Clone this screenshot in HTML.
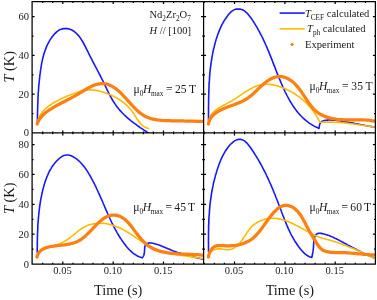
<!DOCTYPE html>
<html><head><meta charset="utf-8"><title>chart</title>
<style>html,body{margin:0;padding:0;background:#fff;width:377px;height:300px;overflow:hidden}body{position:relative;font-family:"Liberation Serif",serif}</style></head>
<body>
<svg width="377" height="300" viewBox="0 0 377 300" style="position:absolute;left:0;top:0;will-change:transform">
<rect width="377" height="300" fill="#fff"/>
<defs>
<clipPath id="c1"><rect x="32.1" y="1.6" width="171.5" height="131.3"/></clipPath>
<clipPath id="c2"><rect x="203.6" y="1.6" width="171.8" height="131.3"/></clipPath>
<clipPath id="c3"><rect x="32.1" y="132.9" width="171.5" height="131.2"/></clipPath>
<clipPath id="c4"><rect x="203.6" y="132.9" width="171.8" height="131.2"/></clipPath>
</defs>
<g clip-path="url(#c1)">
<path d="M37.4,122.7L37.4,120.8L37.4,118.9L37.5,116.9L37.5,115.0L37.5,113.1L37.6,111.2L37.6,109.3L37.7,107.4L37.7,105.5L37.8,103.6L37.9,101.7L37.9,99.8L38.0,97.9L38.1,96.0L38.2,94.1L38.3,92.2L38.5,90.3L38.6,88.4L38.7,86.6L38.9,84.7L39.1,82.8L39.3,80.9L39.5,79.0L39.7,77.1L39.9,75.2L40.2,73.3L40.4,71.4L40.7,69.5L41.0,67.6L41.3,65.7L41.6,63.8L42.0,61.9L42.4,60.0L42.8,58.1L43.3,56.2L43.8,54.4L44.4,52.5L45.0,50.7L45.7,48.9L46.4,47.1L47.1,45.3L48.0,43.6L48.9,41.9L49.9,40.2L50.9,38.6L52.0,37.0L53.2,35.4L54.5,33.9L55.9,32.6L57.3,31.3L58.8,30.3L60.4,29.4L62.1,28.9L63.8,28.6L65.6,28.5L67.3,28.6L69.0,29.0L70.7,29.6L72.3,30.3L73.8,31.2L75.2,32.3L76.6,33.5L77.8,34.9L79.1,36.3L80.2,37.9L81.3,39.5L82.4,41.2L83.4,43.0L84.4,44.8L85.3,46.6L86.2,48.4L87.2,50.3L88.1,52.1L88.9,53.9L89.8,55.7L90.7,57.4L91.6,59.1L92.5,60.8L93.3,62.5L94.2,64.1L95.1,65.8L95.9,67.4L96.8,69.0L97.6,70.6L98.5,72.3L99.3,73.9L100.2,75.5L101.0,77.2L101.8,78.8L102.7,80.5L103.5,82.2L104.3,83.9L105.1,85.7L106.0,87.4L106.8,89.2L107.7,90.9L108.5,92.7L109.4,94.4L110.3,96.2L111.3,97.9L112.2,99.5L113.2,101.2L114.3,102.8L115.3,104.4L116.4,106.0L117.6,107.5L118.8,109.0L120.0,110.4L121.3,111.8L122.6,113.2L123.9,114.5L125.3,115.8L126.7,117.1L128.1,118.3L129.6,119.6L131.0,120.8L132.5,121.9L134.0,123.1L135.6,124.2L137.1,125.4L138.7,126.5L140.2,127.6L141.8,128.6L143.4,129.7L145.0,130.8L146.6,131.8L148.2,132.9" fill="none" stroke="#1818ff" stroke-width="1.6" stroke-linejoin="round" stroke-linecap="round" />
<path d="M37.2,124.0L37.4,122.5L37.7,121.0L38.1,119.5L38.6,118.2L39.2,116.8L39.8,115.6L40.6,114.3L41.5,113.2L42.4,112.0L43.3,110.9L44.4,109.9L45.4,108.8L46.5,107.9L47.6,106.9L48.8,106.0L50.0,105.2L51.2,104.3L52.4,103.5L53.7,102.7L55.0,102.0L56.3,101.3L57.6,100.6L58.9,99.9L60.3,99.2L61.7,98.6L63.0,97.9L64.4,97.3L65.8,96.7L67.2,96.1L68.6,95.6L70.0,95.0L71.4,94.5L72.8,93.9L74.2,93.4L75.6,92.9L77.0,92.4L78.4,91.9L79.8,91.5L81.2,91.1L82.6,90.8L84.0,90.5L85.4,90.3L86.8,90.1L88.3,90.0L89.7,89.9L91.1,89.9L92.6,90.0L94.0,90.1L95.5,90.3L96.9,90.6L98.4,90.8L99.8,91.2L101.3,91.6L102.7,92.0L104.1,92.4L105.5,92.9L106.9,93.4L108.3,94.0L109.7,94.5L111.1,95.1L112.4,95.8L113.8,96.4L115.1,97.1L116.4,97.8L117.7,98.6L119.0,99.3L120.2,100.2L121.4,101.0L122.6,101.9L123.8,102.8L124.9,103.7L126.0,104.7L127.1,105.7L128.1,106.7L129.2,107.8L130.1,108.9L131.1,110.1L132.0,111.2L132.8,112.4L133.7,113.7L134.5,114.9L135.3,116.2L136.1,117.4L136.9,118.7L137.7,119.9L138.5,121.1L139.4,122.2L140.3,123.3L141.3,124.4L142.3,125.3L143.3,126.2L144.5,126.9L145.7,127.6L147.0,128.1L148.5,128.5" fill="none" stroke="#ffba00" stroke-width="1.6" stroke-linejoin="round" stroke-linecap="round" />
<path d="M37.2,124.0L37.8,122.4L38.5,120.9L39.3,119.5L40.3,118.1L41.3,116.8L42.4,115.6L43.6,114.4L44.8,113.3L46.1,112.2L47.5,111.2L48.9,110.2L50.3,109.3L51.8,108.4L53.2,107.5L54.7,106.7L56.1,105.9L57.6,105.0L59.1,104.3L60.5,103.5L62.0,102.7L63.4,102.0L64.9,101.2L66.4,100.5L67.8,99.7L69.3,98.9L70.8,98.2L72.2,97.4L73.7,96.6L75.1,95.8L76.6,94.9L78.1,94.1L79.5,93.2L81.0,92.3L82.5,91.4L84.0,90.5L85.5,89.6L87.0,88.7L88.5,87.9L90.1,87.1L91.6,86.3L93.2,85.6L94.8,85.0L96.4,84.5L98.0,84.1L99.6,83.8L101.2,83.6L102.8,83.5L104.3,83.6L105.9,83.9L107.4,84.3L108.9,84.8L110.3,85.4L111.7,86.1L113.1,86.9L114.5,87.8L115.8,88.7L117.1,89.7L118.4,90.8L119.6,91.9L120.9,93.1L122.1,94.3L123.2,95.5L124.4,96.8L125.6,98.0L126.7,99.3L127.9,100.6L129.0,101.9L130.1,103.2L131.3,104.5L132.5,105.7L133.6,107.0L134.8,108.2L136.0,109.4L137.2,110.5L138.5,111.6L139.7,112.7L141.0,113.7L142.4,114.6L143.8,115.5L145.2,116.3L146.6,117.0L148.1,117.6L149.7,118.2L151.2,118.7L152.9,119.1L154.5,119.4L156.2,119.7L157.8,120.0L159.6,120.2L161.3,120.4L163.0,120.5L164.7,120.6L166.5,120.7L168.2,120.7L170.0,120.7L171.7,120.8L173.4,120.8L175.1,120.8L176.8,120.8L178.4,120.8L180.1,120.9L181.7,120.9L183.4,120.9L185.0,121.0L186.6,121.0L188.2,121.0L189.9,121.1L191.5,121.1L193.1,121.2L194.8,121.2L196.4,121.3L198.1,121.3L199.8,121.4L201.5,121.4L203.3,121.5" fill="none" stroke="#ff8010" stroke-width="3.25" stroke-linejoin="round" stroke-linecap="round" />
</g>
<g clip-path="url(#c2)">
<path d="M208.5,120.0L208.5,118.1L208.5,116.2L208.5,114.3L208.5,112.5L208.5,110.6L208.5,108.7L208.5,106.8L208.6,104.9L208.6,103.0L208.6,101.1L208.6,99.2L208.7,97.3L208.7,95.5L208.8,93.6L208.8,91.7L208.9,89.8L209.0,87.9L209.0,86.0L209.1,84.1L209.2,82.2L209.4,80.4L209.5,78.5L209.6,76.6L209.8,74.7L209.9,72.8L210.1,71.0L210.3,69.1L210.5,67.2L210.8,65.3L211.0,63.5L211.3,61.6L211.6,59.8L211.9,57.9L212.2,56.1L212.6,54.2L212.9,52.4L213.3,50.5L213.7,48.7L214.2,46.9L214.6,45.0L215.1,43.2L215.6,41.4L216.1,39.6L216.7,37.8L217.3,36.0L217.9,34.2L218.6,32.4L219.3,30.6L220.0,28.9L220.8,27.1L221.6,25.4L222.5,23.7L223.4,22.1L224.4,20.4L225.5,18.8L226.6,17.2L227.7,15.6L228.9,14.1L230.2,12.7L231.6,11.4L233.1,10.4L234.7,9.6L236.4,9.1L238.2,9.0L239.9,9.1L241.7,9.5L243.3,10.2L244.8,11.2L246.2,12.4L247.6,13.7L248.8,15.2L250.0,16.7L251.2,18.3L252.3,19.9L253.4,21.6L254.4,23.2L255.4,24.8L256.4,26.4L257.4,28.1L258.3,29.8L259.2,31.4L260.1,33.1L261.0,34.8L261.9,36.5L262.7,38.2L263.5,39.9L264.3,41.6L265.1,43.3L265.8,45.0L266.6,46.7L267.3,48.4L268.1,50.2L268.8,51.9L269.5,53.6L270.2,55.4L270.9,57.1L271.6,58.9L272.3,60.6L272.9,62.4L273.6,64.1L274.3,65.9L275.0,67.6L275.7,69.4L276.3,71.1L277.0,72.9L277.7,74.6L278.4,76.4L279.1,78.1L279.9,79.8L280.6,81.6L281.3,83.3L282.1,85.1L282.8,86.8L283.6,88.5L284.4,90.2L285.2,92.0L286.1,93.7L286.9,95.3L287.8,97.0L288.7,98.7L289.6,100.3L290.6,102.0L291.6,103.6L292.6,105.2L293.6,106.7L294.7,108.3L295.8,109.8L296.9,111.2L298.1,112.7L299.3,114.1L300.6,115.5L301.9,116.8L303.2,118.1L304.6,119.3L306.0,120.6L307.4,121.7L308.9,122.8L310.5,123.9L312.1,124.9L313.7,125.9L315.4,126.8L317.2,127.6L319.0,128.4 M319.0,128.4L319.2,127.4L319.3,126.4L319.5,125.3L319.7,124.3L320.1,123.3L320.6,122.5L321.4,121.8L322.2,121.3L323.2,120.9L324.2,120.6L325.3,120.4L326.4,120.2L327.4,120.1L328.5,120.0L329.5,120.0L330.6,120.0L331.6,120.0L332.7,120.1L333.7,120.1L334.7,120.2L335.7,120.3L336.8,120.4L337.8,120.6L338.8,120.7L339.8,120.8L340.8,121.0L341.9,121.1L342.9,121.3L343.9,121.5L344.9,121.6L345.9,121.8L347.0,122.0L348.0,122.2L349.0,122.3L350.0,122.5L351.1,122.7L352.1,122.9L353.1,123.1L354.1,123.3L355.1,123.5L356.2,123.7L357.2,123.9L358.2,124.1L359.2,124.3L360.2,124.5L361.3,124.7L362.3,124.9L363.3,125.1L364.3,125.3L365.3,125.5L366.3,125.7L367.4,125.9L368.4,126.1L369.4,126.3L370.4,126.4L371.4,126.6L372.5,126.8L373.5,126.9L374.5,127.1" fill="none" stroke="#1818ff" stroke-width="1.6" stroke-linejoin="round" stroke-linecap="round" />
<path d="M208.5,124.0L208.5,122.5L208.7,121.0L209.0,119.6L209.4,118.3L209.9,117.1L210.5,115.9L211.2,114.8L212.0,113.8L212.9,112.8L213.8,111.8L214.8,110.9L215.8,110.1L216.9,109.3L218.0,108.5L219.2,107.8L220.3,107.1L221.5,106.4L222.7,105.7L223.9,105.0L225.2,104.4L226.4,103.7L227.7,103.1L228.9,102.4L230.2,101.7L231.4,101.1L232.6,100.3L233.8,99.6L235.1,98.8L236.3,98.1L237.5,97.3L238.6,96.5L239.8,95.7L241.0,94.9L242.2,94.1L243.4,93.3L244.5,92.5L245.7,91.7L246.9,91.0L248.1,90.3L249.3,89.6L250.5,88.9L251.7,88.2L252.9,87.6L254.1,87.0L255.3,86.5L256.5,86.0L257.8,85.6L259.0,85.2L260.3,84.9L261.6,84.6L262.9,84.4L264.2,84.3L265.5,84.2L266.9,84.2L268.2,84.3L269.6,84.4L271.0,84.6L272.4,84.8L273.7,85.1L275.1,85.4L276.5,85.7L277.9,86.1L279.2,86.6L280.6,87.0L281.9,87.5L283.2,88.0L284.5,88.6L285.8,89.1L287.1,89.7L288.4,90.3L289.6,91.0L290.9,91.6L292.1,92.3L293.3,93.0L294.5,93.7L295.7,94.5L296.8,95.3L298.0,96.1L299.1,96.9L300.2,97.7L301.3,98.6L302.3,99.4L303.4,100.3L304.4,101.2L305.4,102.2L306.4,103.1L307.3,104.1L308.3,105.1L309.2,106.1L310.1,107.1L311.0,108.2L311.8,109.3L312.7,110.4L313.5,111.5L314.3,112.6L315.0,113.7L315.8,114.9L316.5,116.1L317.2,117.3L317.9,118.5L318.6,119.8L319.2,121.0L319.8,122.3 M319.8,122.3L320.7,122.2L321.7,122.2L322.6,122.2L323.5,122.1L324.5,122.1L325.4,122.1L326.3,122.1L327.3,122.1L328.2,122.1L329.1,122.1L330.1,122.1L331.0,122.1L331.9,122.1L332.8,122.2L333.8,122.2L334.7,122.2L335.6,122.3L336.6,122.3L337.5,122.4L338.4,122.4L339.4,122.5L340.3,122.6L341.2,122.7L342.1,122.7L343.1,122.8L344.0,122.9L344.9,123.0L345.9,123.1L346.8,123.2L347.7,123.3L348.6,123.4L349.6,123.5L350.5,123.6L351.4,123.7L352.3,123.8L353.3,124.0L354.2,124.1L355.1,124.2L356.1,124.3L357.0,124.5L357.9,124.6L358.8,124.7L359.8,124.9L360.7,125.0L361.6,125.1L362.5,125.3L363.4,125.4L364.4,125.5L365.3,125.7L366.2,125.8L367.1,126.0L368.1,126.1L369.0,126.3L369.9,126.4L370.8,126.5L371.7,126.7L372.7,126.8L373.6,127.0L374.5,127.1" fill="none" stroke="#ffba00" stroke-width="1.6" stroke-linejoin="round" stroke-linecap="round" />
<path d="M208.5,124.0L208.7,122.5L209.2,121.0L209.8,119.6L210.5,118.3L211.4,117.1L212.4,115.9L213.5,114.8L214.7,113.8L215.9,112.9L217.2,112.0L218.5,111.2L219.9,110.4L221.2,109.7L222.6,109.0L224.0,108.4L225.4,107.8L226.9,107.3L228.3,106.7L229.7,106.2L231.2,105.7L232.6,105.2L234.1,104.7L235.5,104.1L236.9,103.6L238.4,103.0L239.8,102.4L241.2,101.8L242.5,101.2L243.9,100.5L245.2,99.7L246.5,99.0L247.7,98.2L248.9,97.3L250.1,96.4L251.2,95.5L252.4,94.5L253.5,93.5L254.6,92.5L255.7,91.4L256.8,90.3L257.9,89.2L259.0,88.1L260.2,87.0L261.4,85.9L262.6,84.9L263.8,83.8L265.1,82.8L266.4,81.8L267.6,80.9L269.0,80.0L270.3,79.2L271.6,78.5L273.0,77.9L274.4,77.4L275.8,77.0L277.2,76.7L278.6,76.5L280.1,76.5L281.5,76.6L283.0,76.9L284.4,77.3L285.8,77.7L287.2,78.3L288.5,79.0L289.8,79.8L291.1,80.6L292.3,81.6L293.5,82.6L294.6,83.6L295.7,84.7L296.7,85.9L297.8,87.1L298.8,88.3L299.7,89.5L300.6,90.8L301.6,92.1L302.4,93.4L303.3,94.7L304.2,96.1L305.1,97.4L305.9,98.7L306.8,100.0L307.7,101.3L308.5,102.6L309.4,103.9L310.4,105.1L311.3,106.3L312.3,107.4L313.3,108.6L314.3,109.6L315.4,110.6L316.5,111.6L317.7,112.5L318.9,113.3L320.2,114.1L321.5,114.8L322.8,115.5L324.2,116.1L325.6,116.6L327.0,117.1L328.5,117.6L330.0,118.0L331.5,118.4L333.0,118.7L334.5,118.9L336.0,119.2L337.5,119.4L339.1,119.5L340.6,119.6L342.1,119.7L343.7,119.8L345.2,119.8L346.7,119.9L348.3,119.9L349.8,119.9L351.4,119.9L352.9,119.9L354.4,119.9L356.0,119.8L357.5,119.8L359.0,119.8L360.6,119.9L362.1,119.9L363.7,119.9L365.2,120.0L366.7,120.1L368.2,120.2L369.8,120.4L371.3,120.6L372.8,120.8L374.3,121.1" fill="none" stroke="#ff8010" stroke-width="3.25" stroke-linejoin="round" stroke-linecap="round" />
</g>
<g clip-path="url(#c3)">
<path d="M37.2,252.2L37.2,250.5L37.2,248.8L37.3,247.2L37.3,245.5L37.3,243.8L37.3,242.1L37.4,240.4L37.4,238.8L37.4,237.1L37.5,235.4L37.5,233.7L37.6,232.1L37.7,230.4L37.8,228.7L37.8,227.1L37.9,225.4L38.0,223.7L38.1,222.1L38.2,220.4L38.4,218.7L38.5,217.1L38.7,215.4L38.8,213.8L39.0,212.1L39.2,210.5L39.4,208.8L39.6,207.1L39.8,205.5L40.1,203.8L40.3,202.2L40.6,200.5L40.9,198.9L41.2,197.2L41.6,195.6L41.9,193.9L42.3,192.3L42.6,190.7L43.0,189.0L43.5,187.4L43.9,185.7L44.4,184.1L44.9,182.5L45.4,180.9L46.0,179.3L46.6,177.7L47.2,176.1L47.9,174.6L48.6,173.0L49.3,171.5L50.1,170.0L51.0,168.6L51.8,167.1L52.8,165.7L53.8,164.4L54.8,163.0L56.0,161.7L57.1,160.5L58.4,159.3L59.6,158.1L61.0,157.2L62.3,156.3L63.7,155.6L65.2,155.2L66.7,155.0L68.1,155.0L69.6,155.3L71.1,155.8L72.6,156.5L74.0,157.3L75.4,158.2L76.8,159.2L78.0,160.2L79.3,161.3L80.5,162.5L81.6,163.7L82.7,165.0L83.8,166.3L84.8,167.6L85.8,169.0L86.8,170.4L87.7,171.9L88.6,173.4L89.5,174.8L90.4,176.3L91.2,177.8L92.0,179.3L92.8,180.9L93.6,182.4L94.4,183.9L95.1,185.4L95.9,186.9L96.6,188.5L97.3,190.0L98.0,191.5L98.7,193.1L99.4,194.6L100.1,196.1L100.8,197.7L101.4,199.2L102.1,200.7L102.8,202.3L103.4,203.8L104.1,205.3L104.7,206.9L105.4,208.4L106.0,209.9L106.7,211.4L107.4,213.0L108.0,214.5L108.7,216.0L109.4,217.5L110.1,219.0L110.8,220.5L111.5,222.0L112.2,223.5L113.0,225.0L113.7,226.4L114.5,227.9L115.3,229.4L116.1,230.8L116.9,232.3L117.7,233.7L118.6,235.1L119.4,236.5L120.3,238.0L121.3,239.4L122.2,240.7L123.2,242.1L124.2,243.5L125.2,244.8L126.2,246.2L127.3,247.5L128.4,248.7L129.6,250.0L130.8,251.1L132.0,252.2L133.3,253.3L134.7,254.3L136.1,255.1L137.5,256.0L139.0,256.7L140.6,257.3L142.2,257.8 M142.2,257.8L142.7,257.2L143.1,256.6L143.5,255.9L143.8,255.3L144.0,254.6L144.2,253.8L144.3,253.1L144.4,252.3L144.5,251.6L144.5,250.8L144.6,250.0L144.6,249.2L144.7,248.5L144.7,247.7L144.8,246.9L145.0,246.2L145.2,245.5L145.6,244.9L146.1,244.3L146.6,243.9L147.2,243.5L147.9,243.3L148.6,243.1L149.3,243.0L150.0,242.9L150.8,243.0L151.5,243.0L152.3,243.2L153.0,243.3L153.8,243.5L154.6,243.7L155.3,243.9L156.0,244.1L156.8,244.3L157.5,244.6L158.2,244.8L159.0,245.1L159.7,245.3L160.4,245.6L161.1,245.9L161.8,246.1L162.5,246.4L163.2,246.7L163.9,247.0L164.6,247.3L165.2,247.6L165.9,247.9L166.6,248.1L167.3,248.4L168.0,248.7L168.7,249.0L169.4,249.3L170.1,249.6L170.8,249.9L171.5,250.2L172.1,250.4L172.8,250.7L173.6,251.0L174.3,251.2L175.0,251.5L175.7,251.7L176.4,252.0L177.1,252.2L177.8,252.5L178.5,252.7L179.2,252.9L180.0,253.1L180.7,253.4L181.4,253.6L182.1,253.8L182.9,254.0L183.6,254.2L184.3,254.5L185.0,254.7L185.8,254.9L186.5,255.1L187.2,255.3L187.9,255.5L188.7,255.7L189.4,255.9L190.1,256.1L190.9,256.2L191.6,256.4L192.3,256.6L193.1,256.8L193.8,257.0L194.5,257.2L195.3,257.4L196.0,257.5L196.7,257.7L197.5,257.9L198.2,258.1L198.9,258.2L199.7,258.4L200.4,258.6L201.1,258.8L201.8,258.9L202.6,259.1L203.3,259.3" fill="none" stroke="#1818ff" stroke-width="1.6" stroke-linejoin="round" stroke-linecap="round" />
<path d="M37.0,257.0L37.4,255.4L37.9,254.0L38.6,252.8L39.5,251.8L40.5,250.8L41.7,250.1L42.9,249.4L44.2,248.8L45.5,248.3L46.9,247.8L48.4,247.4L49.8,246.9L51.2,246.5L52.6,246.1L54.0,245.6L55.4,245.2L56.8,244.7L58.2,244.2L59.6,243.7L60.9,243.2L62.2,242.6L63.5,241.9L64.8,241.2L66.0,240.5L67.2,239.7L68.4,238.9L69.6,238.0L70.7,237.1L71.9,236.2L73.0,235.3L74.1,234.4L75.3,233.4L76.4,232.5L77.5,231.6L78.7,230.7L79.9,229.8L81.0,229.0L82.2,228.2L83.5,227.5L84.8,226.8L86.1,226.1L87.4,225.6L88.8,225.1L90.2,224.6L91.6,224.3L93.0,223.9L94.5,223.7L96.0,223.5L97.5,223.4L98.9,223.3L100.4,223.3L101.9,223.3L103.4,223.4L104.9,223.5L106.4,223.7L107.8,224.0L109.2,224.3L110.6,224.6L112.0,225.0L113.4,225.4L114.8,225.9L116.1,226.4L117.4,226.9L118.7,227.5L120.0,228.1L121.3,228.7L122.6,229.4L123.9,230.1L125.1,230.8L126.4,231.5L127.6,232.3L128.8,233.0L130.1,233.8L131.3,234.6L132.5,235.4L133.7,236.2L134.9,237.0L136.2,237.8L137.4,238.6L138.6,239.4L139.8,240.2L141.0,241.0L142.3,241.7L143.5,242.5L144.7,243.3L146.0,244.0L147.3,244.7L148.5,245.4L149.8,246.1L151.1,246.8L152.4,247.4L153.7,248.0L155.0,248.6L156.3,249.1L157.7,249.6L159.0,250.1L160.4,250.6L161.8,251.0L163.1,251.4L164.5,251.8L165.9,252.2L167.3,252.6L168.8,252.9L170.2,253.2L171.6,253.5L173.0,253.8L174.5,254.1L175.9,254.4L177.4,254.6L178.8,254.9L180.2,255.1L181.7,255.4L183.1,255.6L184.6,255.8L186.1,256.0L187.5,256.2L189.0,256.5L190.4,256.7L191.9,256.9L193.3,257.1L194.7,257.3L196.2,257.5L197.6,257.7L199.0,258.0L200.5,258.2L201.9,258.4L203.3,258.7" fill="none" stroke="#ffba00" stroke-width="1.6" stroke-linejoin="round" stroke-linecap="round" />
<path d="M37.0,257.0L37.4,255.5L38.0,254.1L38.7,252.9L39.5,251.8L40.5,250.8L41.5,250.0L42.7,249.2L43.9,248.6L45.2,248.0L46.6,247.6L48.0,247.2L49.4,246.8L50.9,246.5L52.4,246.3L53.9,246.1L55.5,245.9L57.0,245.7L58.5,245.5L60.0,245.4L61.5,245.2L63.0,245.0L64.4,244.8L65.9,244.6L67.3,244.4L68.7,244.2L70.1,243.9L71.5,243.5L72.9,243.2L74.2,242.8L75.5,242.3L76.8,241.8L78.0,241.2L79.2,240.5L80.4,239.8L81.6,239.0L82.7,238.2L83.8,237.3L84.9,236.4L86.0,235.4L87.1,234.4L88.1,233.4L89.2,232.3L90.2,231.2L91.3,230.2L92.3,229.1L93.3,228.0L94.4,226.9L95.4,225.8L96.5,224.7L97.5,223.6L98.6,222.6L99.7,221.6L100.8,220.6L102.0,219.7L103.1,218.8L104.3,218.0L105.6,217.3L106.8,216.6L108.1,216.1L109.4,215.7L110.8,215.4L112.2,215.2L113.7,215.2L115.1,215.2L116.5,215.4L117.9,215.7L119.2,216.1L120.5,216.6L121.7,217.3L122.9,218.0L124.0,218.8L125.1,219.6L126.2,220.6L127.2,221.6L128.2,222.6L129.2,223.7L130.1,224.9L131.1,226.1L132.0,227.2L132.9,228.4L133.8,229.7L134.7,230.9L135.6,232.1L136.5,233.3L137.4,234.4L138.3,235.6L139.3,236.8L140.2,237.9L141.1,239.0L142.1,240.1L143.1,241.2L144.1,242.2L145.1,243.1L146.2,244.1L147.2,245.0L148.4,245.8L149.5,246.6L150.7,247.3L151.9,248.0L153.1,248.6L154.4,249.2L155.7,249.7L157.0,250.2L158.3,250.7L159.7,251.1L161.1,251.5L162.5,251.8L163.9,252.1L165.3,252.4L166.8,252.7L168.2,252.9L169.7,253.1L171.2,253.3L172.7,253.4L174.2,253.6L175.7,253.7L177.2,253.8L178.7,253.9L180.2,254.0L181.7,254.0L183.2,254.1L184.7,254.1L186.2,254.2L187.7,254.2L189.2,254.3L190.7,254.4L192.2,254.4L193.6,254.5L195.1,254.6L196.5,254.6L197.9,254.7L199.3,254.9L200.6,255.0L202.0,255.1L203.3,255.3" fill="none" stroke="#ff8010" stroke-width="3.25" stroke-linejoin="round" stroke-linecap="round" />
</g>
<g clip-path="url(#c4)">
<path d="M208.5,251.7L208.5,249.9L208.5,248.1L208.5,246.3L208.5,244.5L208.5,242.7L208.4,240.8L208.5,239.0L208.5,237.2L208.5,235.4L208.5,233.6L208.5,231.8L208.6,230.0L208.6,228.2L208.6,226.4L208.7,224.6L208.8,222.8L208.8,221.0L208.9,219.2L209.0,217.4L209.1,215.6L209.3,213.9L209.4,212.1L209.5,210.3L209.7,208.5L209.8,206.7L210.0,204.9L210.2,203.1L210.4,201.4L210.7,199.6L210.9,197.8L211.2,196.0L211.4,194.3L211.7,192.5L212.0,190.7L212.4,189.0L212.7,187.2L213.1,185.4L213.4,183.7L213.8,181.9L214.3,180.2L214.7,178.4L215.2,176.7L215.6,174.9L216.2,173.2L216.7,171.4L217.2,169.7L217.8,167.9L218.4,166.2L219.0,164.5L219.7,162.7L220.4,161.0L221.1,159.3L221.8,157.6L222.6,156.0L223.5,154.4L224.4,152.8L225.3,151.2L226.3,149.7L227.4,148.2L228.5,146.7L229.6,145.3L230.9,144.0L232.2,142.8L233.6,141.6L235.0,140.6L236.5,139.9L238.0,139.4L239.6,139.3L241.1,139.4L242.6,139.9L244.1,140.6L245.4,141.6L246.7,142.8L247.9,144.2L249.0,145.7L250.2,147.2L251.3,148.8L252.3,150.3L253.4,151.9L254.4,153.5L255.4,155.1L256.4,156.6L257.3,158.2L258.3,159.8L259.2,161.4L260.1,163.0L261.0,164.6L261.9,166.2L262.7,167.8L263.5,169.4L264.4,171.0L265.2,172.6L266.0,174.2L266.7,175.8L267.5,177.4L268.3,179.1L269.0,180.7L269.7,182.3L270.5,184.0L271.2,185.6L271.9,187.2L272.6,188.9L273.3,190.5L273.9,192.2L274.6,193.8L275.3,195.5L275.9,197.2L276.6,198.8L277.3,200.5L277.9,202.2L278.5,203.8L279.2,205.5L279.8,207.2L280.5,208.9L281.1,210.6L281.7,212.3L282.4,214.0L283.0,215.6L283.7,217.3L284.3,219.0L285.0,220.7L285.7,222.4L286.4,224.1L287.1,225.7L287.8,227.4L288.5,229.1L289.3,230.7L290.1,232.3L290.9,234.0L291.7,235.6L292.6,237.1L293.4,238.7L294.4,240.3L295.3,241.8L296.3,243.3L297.3,244.8L298.3,246.3L299.4,247.7L300.6,249.2L301.7,250.5L303.0,251.9L304.2,253.1L305.6,254.3L307.0,255.3L308.5,256.2L310.1,256.9L311.8,257.5 M311.8,257.5L312.0,256.6L312.1,255.8L312.3,254.9L312.5,254.0L312.7,253.1L312.8,252.3L313.0,251.4L313.1,250.5L313.2,249.6L313.3,248.8L313.4,247.9L313.5,247.0L313.5,246.1L313.6,245.2L313.6,244.4L313.7,243.5L313.8,242.6L313.8,241.7L313.9,240.8L314.1,240.0L314.2,239.1L314.4,238.2L314.6,237.3L314.9,236.4L315.3,235.6L315.7,234.9L316.3,234.3L317.0,233.8L317.8,233.5L318.6,233.4L319.4,233.3L320.3,233.3L321.2,233.4L322.1,233.6L323.0,233.8L323.9,234.0L324.8,234.2L325.7,234.5L326.5,234.7L327.4,235.0L328.2,235.3L329.1,235.6L329.9,235.9L330.7,236.3L331.5,236.6L332.3,237.0L333.1,237.3L333.9,237.7L334.7,238.1L335.5,238.5L336.3,238.8L337.1,239.2L337.9,239.6L338.7,240.0L339.5,240.5L340.2,240.9L341.0,241.3L341.8,241.7L342.6,242.1L343.3,242.5L344.1,243.0L344.9,243.4L345.7,243.8L346.5,244.2L347.2,244.6L348.0,245.1L348.8,245.5L349.6,245.9L350.4,246.3L351.1,246.8L351.9,247.2L352.7,247.6L353.5,248.0L354.3,248.4L355.1,248.8L355.9,249.2L356.6,249.7L357.4,250.1L358.2,250.5L359.0,250.9L359.8,251.3L360.6,251.7L361.4,252.1L362.2,252.5L363.0,252.9L363.8,253.2L364.6,253.6L365.4,254.0L366.2,254.4L367.0,254.8L367.8,255.1L368.6,255.5L369.4,255.8L370.2,256.2L371.0,256.6L371.8,256.9L372.7,257.2L373.5,257.6L374.3,257.9" fill="none" stroke="#1818ff" stroke-width="1.6" stroke-linejoin="round" stroke-linecap="round" />
<path d="M208.5,257.0L208.9,255.5L209.4,254.1L210.2,252.8L211.1,251.7L212.2,250.8L213.3,250.1L214.6,249.5L215.9,249.2L217.4,248.9L218.8,248.9L220.3,248.9L221.8,249.1L223.3,249.3L224.8,249.5L226.2,249.7L227.7,249.7L229.1,249.7L230.5,249.5L231.8,249.1L233.1,248.5L234.3,247.8L235.5,247.0L236.6,246.1L237.7,245.2L238.7,244.1L239.7,243.0L240.6,241.9L241.5,240.7L242.4,239.5L243.2,238.3L244.0,237.1L244.9,235.8L245.7,234.6L246.5,233.3L247.4,232.1L248.3,230.9L249.1,229.7L250.1,228.5L251.0,227.4L252.0,226.4L253.1,225.4L254.2,224.4L255.4,223.6L256.6,222.8L257.9,222.0L259.2,221.4L260.5,220.8L261.9,220.2L263.3,219.7L264.7,219.3L266.1,219.0L267.6,218.7L269.1,218.5L270.5,218.4L272.0,218.3L273.4,218.3L274.9,218.3L276.3,218.5L277.7,218.6L279.1,218.9L280.5,219.2L281.9,219.5L283.3,219.9L284.6,220.3L286.0,220.8L287.4,221.3L288.7,221.8L290.1,222.4L291.4,223.0L292.7,223.6L294.1,224.3L295.4,224.9L296.7,225.6L298.0,226.3L299.3,227.0L300.6,227.8L302.0,228.5L303.3,229.2L304.6,229.9L305.9,230.6L307.2,231.4L308.5,232.1L309.8,232.8L311.1,233.4L312.4,234.1L313.7,234.7L315.0,235.3L316.3,235.9L317.7,236.4L319.0,236.9L320.3,237.4L321.7,237.9L323.0,238.3L324.3,238.6L325.7,239.0L327.0,239.4L328.4,239.8L329.8,240.1L331.1,240.5L332.5,240.9L333.9,241.4L335.2,241.8L336.6,242.3L338.0,242.7L339.4,243.2L340.8,243.7L342.1,244.2L343.5,244.7L344.9,245.3L346.2,245.8L347.6,246.3L349.0,246.9L350.3,247.4L351.7,248.0L353.0,248.6L354.4,249.1L355.7,249.7L357.0,250.3L358.4,250.9L359.7,251.5L361.1,252.1L362.4,252.7L363.7,253.3L365.0,253.9L366.4,254.6L367.7,255.2L369.0,255.8L370.3,256.4L371.7,257.1L373.0,257.7L374.3,258.3" fill="none" stroke="#ffba00" stroke-width="1.6" stroke-linejoin="round" stroke-linecap="round" />
<path d="M208.5,257.0L208.7,255.6L209.1,254.3L209.5,252.9L210.1,251.5L210.9,250.3L211.7,249.1L212.6,248.0L213.7,247.2L214.8,246.5L216.0,246.0L217.2,245.7L218.5,245.5L219.9,245.5L221.3,245.5L222.7,245.6L224.1,245.7L225.6,245.8L227.0,245.8L228.5,245.8L229.9,245.8L231.4,245.7L232.8,245.6L234.2,245.5L235.7,245.3L237.1,245.1L238.5,244.8L239.9,244.5L241.2,244.1L242.6,243.7L243.9,243.3L245.2,242.8L246.4,242.2L247.7,241.6L248.9,241.0L250.0,240.3L251.2,239.5L252.3,238.7L253.3,237.9L254.3,237.0L255.3,236.0L256.3,235.0L257.2,234.0L258.2,232.9L259.1,231.9L260.0,230.7L260.8,229.6L261.7,228.5L262.6,227.3L263.4,226.1L264.3,224.9L265.1,223.7L266.0,222.5L266.8,221.3L267.7,220.1L268.5,218.9L269.4,217.7L270.3,216.6L271.2,215.4L272.1,214.3L273.1,213.2L274.1,212.1L275.1,211.1L276.1,210.1L277.2,209.1L278.3,208.2L279.4,207.4L280.6,206.7L281.8,206.1L283.1,205.7L284.4,205.4L285.7,205.4L287.1,205.4L288.4,205.6L289.7,206.0L291.0,206.5L292.2,207.0L293.3,207.7L294.4,208.4L295.4,209.3L296.4,210.2L297.4,211.2L298.3,212.2L299.2,213.4L300.1,214.5L300.9,215.7L301.7,217.0L302.5,218.3L303.2,219.6L303.9,220.9L304.7,222.2L305.4,223.5L306.0,224.9L306.7,226.2L307.4,227.5L308.1,228.8L308.7,230.0L309.4,231.2L310.1,232.4L310.8,233.6L311.5,234.8L312.2,235.9L312.9,237.1L313.6,238.3L314.3,239.4L315.1,240.6L315.8,241.8L316.6,243.1L317.3,244.3L318.2,245.5L319.0,246.7L319.9,247.7L320.9,248.7L322.0,249.6L323.1,250.3L324.3,250.9L325.6,251.3L326.9,251.7L328.2,251.9L329.6,252.1L331.0,252.3L332.5,252.4L333.9,252.5L335.3,252.5L336.8,252.5L338.2,252.6L339.6,252.6L341.1,252.6L342.5,252.6L344.0,252.7L345.4,252.7L346.8,252.8L348.2,252.9L349.6,253.0L351.0,253.1L352.5,253.2L353.9,253.3L355.3,253.5L356.7,253.6L358.0,253.8L359.4,253.9L360.8,254.0L362.2,254.2L363.6,254.3L365.0,254.4L366.5,254.5L367.9,254.6L369.3,254.7L370.7,254.8L372.1,254.9L373.6,254.9L375.0,254.9" fill="none" stroke="#ff8010" stroke-width="3.25" stroke-linejoin="round" stroke-linecap="round" />
</g>
<path d="M32.1,1.6H375.4V264.1H32.1ZM203.6,1.6V264.1M32.1,132.9H375.4M42.7,264.1v-1.4M42.7,131.5v2.8M42.7,1.6v1.4M52.7,264.1v-1.4M52.7,131.5v2.8M52.7,1.6v1.4M62.8,264.1v-2.5M62.8,130.4v5.0M62.8,1.6v2.5M72.9,264.1v-1.4M72.9,131.5v2.8M72.9,1.6v1.4M82.9,264.1v-1.4M82.9,131.5v2.8M82.9,1.6v1.4M93.0,264.1v-1.4M93.0,131.5v2.8M93.0,1.6v1.4M103.1,264.1v-1.4M103.1,131.5v2.8M103.1,1.6v1.4M113.2,264.1v-2.5M113.2,130.4v5.0M113.2,1.6v2.5M123.2,264.1v-1.4M123.2,131.5v2.8M123.2,1.6v1.4M133.3,264.1v-1.4M133.3,131.5v2.8M133.3,1.6v1.4M143.4,264.1v-1.4M143.4,131.5v2.8M143.4,1.6v1.4M153.4,264.1v-1.4M153.4,131.5v2.8M153.4,1.6v1.4M163.5,264.1v-2.5M163.5,130.4v5.0M163.5,1.6v2.5M173.6,264.1v-1.4M173.6,131.5v2.8M173.6,1.6v1.4M183.6,264.1v-1.4M183.6,131.5v2.8M183.6,1.6v1.4M193.7,264.1v-1.4M193.7,131.5v2.8M193.7,1.6v1.4M204.3,264.1v-1.4M204.3,131.5v2.8M204.3,1.6v1.4M214.4,264.1v-1.4M214.4,131.5v2.8M214.4,1.6v1.4M224.4,264.1v-1.4M224.4,131.5v2.8M224.4,1.6v1.4M234.5,264.1v-2.5M234.5,130.4v5.0M234.5,1.6v2.5M244.6,264.1v-1.4M244.6,131.5v2.8M244.6,1.6v1.4M254.6,264.1v-1.4M254.6,131.5v2.8M254.6,1.6v1.4M264.7,264.1v-1.4M264.7,131.5v2.8M264.7,1.6v1.4M274.8,264.1v-1.4M274.8,131.5v2.8M274.8,1.6v1.4M284.9,264.1v-2.5M284.9,130.4v5.0M284.9,1.6v2.5M294.9,264.1v-1.4M294.9,131.5v2.8M294.9,1.6v1.4M305.0,264.1v-1.4M305.0,131.5v2.8M305.0,1.6v1.4M315.1,264.1v-1.4M315.1,131.5v2.8M315.1,1.6v1.4M325.1,264.1v-1.4M325.1,131.5v2.8M325.1,1.6v1.4M335.2,264.1v-2.5M335.2,130.4v5.0M335.2,1.6v2.5M345.3,264.1v-1.4M345.3,131.5v2.8M345.3,1.6v1.4M355.3,264.1v-1.4M355.3,131.5v2.8M355.3,1.6v1.4M365.4,264.1v-1.4M365.4,131.5v2.8M365.4,1.6v1.4M32.1,113.5h1.4M202.2,113.5h2.8M375.4,113.5h-1.4M32.1,94.2h2.5M201.1,94.2h5.0M375.4,94.2h-2.5M32.1,74.8h1.4M202.2,74.8h2.8M375.4,74.8h-1.4M32.1,55.4h2.5M201.1,55.4h5.0M375.4,55.4h-2.5M32.1,36.0h1.4M202.2,36.0h2.8M375.4,36.0h-1.4M32.1,16.7h2.5M201.1,16.7h5.0M375.4,16.7h-2.5M32.1,249.2h1.4M202.2,249.2h2.8M375.4,249.2h-1.4M32.1,234.2h2.5M201.1,234.2h5.0M375.4,234.2h-2.5M32.1,219.3h1.4M202.2,219.3h2.8M375.4,219.3h-1.4M32.1,204.3h2.5M201.1,204.3h5.0M375.4,204.3h-2.5M32.1,189.4h1.4M202.2,189.4h2.8M375.4,189.4h-1.4M32.1,174.4h2.5M201.1,174.4h5.0M375.4,174.4h-2.5M32.1,159.5h1.4M202.2,159.5h2.8M375.4,159.5h-1.4M32.1,144.5h2.5M201.1,144.5h5.0M375.4,144.5h-2.5" fill="none" stroke="#000" stroke-width="1.25"/>
<path d="M279.6,13.1H304.8" stroke="#1818ff" stroke-width="1.6"/>
<path d="M279.6,28.8H304.8" stroke="#ffba00" stroke-width="1.6"/>
<circle cx="292.1" cy="44.3" r="1.6" fill="#ff8010"/>
<g font-family="Liberation Serif, serif" fill="#1a1a1a">
<text x="29.0" y="20.2" font-size="10.5" text-anchor="end" >60</text>
<text x="29.0" y="58.8" font-size="10.5" text-anchor="end" >40</text>
<text x="29.0" y="97.5" font-size="10.5" text-anchor="end" >20</text>
<text x="29.0" y="135.6" font-size="10.5" text-anchor="end" >0</text>
<text x="29.0" y="148.0" font-size="10.5" text-anchor="end" >80</text>
<text x="29.0" y="178.0" font-size="10.5" text-anchor="end" >60</text>
<text x="29.0" y="208.0" font-size="10.5" text-anchor="end" >40</text>
<text x="29.0" y="238.0" font-size="10.5" text-anchor="end" >20</text>
<text x="29.0" y="268.0" font-size="10.5" text-anchor="end" >0</text>
<text x="62.5" y="274.2" font-size="10.5" text-anchor="middle" >0.05</text>
<text x="112.9" y="274.2" font-size="10.5" text-anchor="middle" >0.10</text>
<text x="163.2" y="274.2" font-size="10.5" text-anchor="middle" >0.15</text>
<text x="234.0" y="274.2" font-size="10.5" text-anchor="middle" >0.05</text>
<text x="284.4" y="274.2" font-size="10.5" text-anchor="middle" >0.10</text>
<text x="334.7" y="274.2" font-size="10.5" text-anchor="middle" >0.15</text>
<text x="118.2" y="295.3" font-size="14.3" text-anchor="middle" >Time (s)</text>
<text x="289.8" y="295.3" font-size="14.3" text-anchor="middle" >Time (s)</text>
<text transform="translate(14.2,66.8) rotate(-90)" font-size="14.3" text-anchor="middle"><tspan font-style="italic">T</tspan> (K)</text>
<text transform="translate(14.2,198.3) rotate(-90)" font-size="14.3" text-anchor="middle"><tspan font-style="italic">T</tspan> (K)</text>
<text x="149.5" y="17.8" font-size="10.5" text-anchor="start" >Nd<tspan dy="2.9" font-size="7.3">2</tspan><tspan dy="-2.9">Zr</tspan><tspan dy="2.9" font-size="7.3">2</tspan><tspan dy="-2.9">O</tspan><tspan dy="2.9" font-size="7.3">7</tspan></text>
<text x="149.5" y="33.8" font-size="10.5" text-anchor="start" ><tspan font-style="italic">H</tspan> // [100]</text>
<text x="133.6" y="92.8" font-size="11.6" text-anchor="start" word-spacing="-0.4">μ<tspan dy="2.9" font-size="7.3">0</tspan><tspan dy="-2.9" dx="-0.5" font-style="italic">H</tspan><tspan dy="2.9" dx="-0.4" font-size="7.3">max</tspan><tspan dy="-2.9"> = 25 T</tspan></text>
<text x="309.5" y="89.7" font-size="11.6" text-anchor="start" word-spacing="-0.2">μ<tspan dy="2.9" font-size="7.3">0</tspan><tspan dy="-2.9" dx="-0.5" font-style="italic">H</tspan><tspan dy="2.9" dx="-0.4" font-size="7.3">max</tspan><tspan dy="-2.9"> = 35 T</tspan></text>
<text x="133.3" y="210.8" font-size="11.6" text-anchor="start" word-spacing="-0.6">μ<tspan dy="2.9" font-size="7.3">0</tspan><tspan dy="-2.9" dx="-0.5" font-style="italic">H</tspan><tspan dy="2.9" dx="-0.4" font-size="7.3">max</tspan><tspan dy="-2.9"> = 45 T</tspan></text>
<text x="309.5" y="211.3" font-size="11.6" text-anchor="start" word-spacing="-0.7">μ<tspan dy="2.9" font-size="7.3">0</tspan><tspan dy="-2.9" dx="-0.5" font-style="italic">H</tspan><tspan dy="2.9" dx="-0.4" font-size="7.3">max</tspan><tspan dy="-2.9"> = 60 T</tspan></text>
<text x="304.9" y="16.9" font-size="10.5" text-anchor="start" ><tspan font-style="italic">T</tspan><tspan dy="2.9" font-size="7.3">CEF</tspan><tspan dy="-2.9"> calculated</tspan></text>
<text x="307.1" y="32.2" font-size="10.5" text-anchor="start" ><tspan font-style="italic">T</tspan><tspan dy="2.9" font-size="7.3">ph</tspan><tspan dy="-2.9"> calculated</tspan></text>
<text x="305.0" y="47.8" font-size="10.6" text-anchor="start" >Experiment</text>
</g>
</svg>
</body></html>
